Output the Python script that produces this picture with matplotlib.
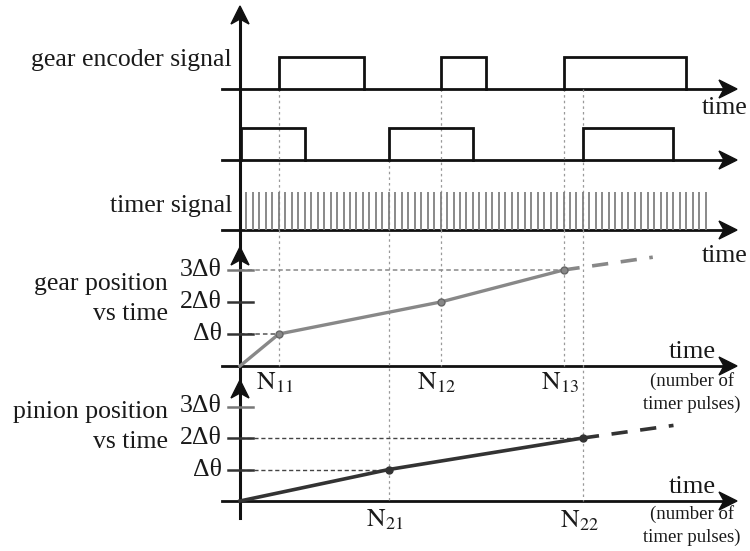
import matplotlib
matplotlib.use("Agg")
import matplotlib.pyplot as plt
from matplotlib.patches import Polygon

plt.rcParams['font.family'] = ['Liberation Serif', 'DejaVu Serif']
plt.rcParams['mathtext.fontset'] = 'stix'

# ---------------- data (time in timer pulses) ----------------
gear_pulses = [(6, 19.2), (31, 38), (50, 69)]          # gear encoder high intervals
pinion_pulses = [(0.15, 10), (23, 36), (53, 67)]       # pinion encoder high intervals
timer_count = 72                                       # timer pulses drawn
gear_N = [6, 31, 50]                                   # N11, N12, N13
gear_pos = [0, 1, 2, 3]                                # in delta-theta
gear_ext_t = [50, 63.8]
gear_ext_v = [3, 3.4]
pinion_N = [23, 53]                                    # N21, N22
pinion_pos = [0, 1, 2]
pinion_ext_t = [53, 67]
pinion_ext_v = [2, 2.4]
tick_labels = ['Δθ', '2Δθ', '3Δθ']

# ---------------- layout ----------------
W, H, DPI = 750, 551, 100
X0, PX = 240.0, 6.47          # origin pixel and pixels per pulse
XL = (-X0 / PX, (W - X0) / PX)

fig = plt.figure(figsize=(W / DPI, H / DPI), dpi=DPI)

def full_axes(xlim, ylim):
    a = fig.add_axes([0, 0, 1, 1])
    a.set_xlim(*xlim)
    a.set_ylim(*ylim)
    a.axis('off')
    a.patch.set_alpha(0)
    return a

axp = full_axes((0, W), (H, 0))                  # pixel layout
axt = full_axes(XL, (H, 0))                      # x pulses, y pixels

def row_axes(base, unit):
    return full_axes(XL, ((base - H) / unit, base / unit))

ROW1, ROW2, ROW3, GEAR, PIN = 89, 160, 230, 366, 501
ax1 = row_axes(ROW1, 32)
ax2 = row_axes(ROW2, 32)
ax3 = row_axes(ROW3, 38)
axg = row_axes(GEAR, 32)
axn = row_axes(PIN, 31.5)

K = '#111111'

def square_wave(ax, pulses):
    for a, b in pulses:
        ax.plot([a, a, b, b], [0, 1, 1, 0], color=K, lw=2.0,
                solid_joinstyle='miter', zorder=4)

# dotted vertical guides (drawn first)
guides = [(gear_N[0], ROW1, GEAR), (gear_N[1], ROW1, GEAR), (gear_N[2], ROW1, GEAR),
          (pinion_N[0], ROW2, PIN), (pinion_N[1], ROW1, PIN)]
for t, y0, y1 in guides:
    axt.plot([t, t], [y0, y1], color='#999999', lw=0.9, ls=(0, (2, 2.5)), zorder=1)

# baselines and arrows
def harrow(y):
    axp.plot([222, 725], [y, y], color=K, lw=2.0, zorder=3)
    axp.add_patch(Polygon([[737, y], [719, y - 9], [724, y], [719, y + 9]],
                          closed=True, color=K, zorder=5))

def varrow(ytip):
    axp.add_patch(Polygon([[240, ytip], [231, ytip + 18], [240, ytip + 13], [249, ytip + 18]],
                          closed=True, color=K, zorder=5))

for y in (ROW1, ROW2, ROW3, GEAR, PIN):
    harrow(y)
axp.plot([240, 240], [15, 518], color=K, lw=2.2, zorder=5)
varrow(6)
varrow(247)
varrow(380)

square_wave(ax1, gear_pulses)
square_wave(ax2, pinion_pulses)

# timer ticks
tt = list(range(1, timer_count + 1))
ax3.vlines(tt, 0, 1, color='#808080', lw=1.3, zorder=3)

# tick marks and labels
for ax, cols in ((axg, ['#333', '#333', '#777']), (axn, ['#333', '#333', '#777'])):
    for i, lab in enumerate(tick_labels):
        v = i + 1
        ax.plot([-12 / PX, 13 / PX], [v, v], color=cols[i], lw=1.8, zorder=3)
        ax.text(-18 / PX, v, lab, ha='right', va='center', fontsize=18.5, color='#1a1a1a')

# gear position plot
axg.plot([0, gear_N[2]], [3, 3], color='#888888', lw=1.1, ls=(0, (3, 2)), zorder=2)
axg.plot([0, gear_N[0]], [1, 1], color='#555555', lw=1.1, ls=(0, (3, 2)), zorder=2)
axg.plot([0] + gear_N, gear_pos, color='#888888', lw=2.4, zorder=4)
axg.plot(gear_N, gear_pos[1:], 'o', ms=5, color='#888888', mec='#666666', zorder=5)
axg.plot(gear_ext_t, gear_ext_v, color='#888888', lw=2.6, ls=(0, (4.5, 3.5)), zorder=4)

# pinion position plot
axn.plot([0, pinion_N[1]], [2, 2], color='#444444', lw=1.0, ls=(0, (3, 2)), zorder=2)
axn.plot([0, pinion_N[0]], [1, 1], color='#444444', lw=1.0, ls=(0, (3, 2)), zorder=2)
axn.plot([0] + pinion_N, pinion_pos, color='#333333', lw=2.6, zorder=4)
axn.plot(pinion_N, pinion_pos[1:], 'o', ms=5, color='#333333', zorder=5)
axn.plot(pinion_ext_t, pinion_ext_v, color='#333333', lw=2.6, ls=(0, (4.5, 3.5)), zorder=4)

# N labels
for t, lab, dy in ((gear_N[0], r'$\mathrm{N}_{11}$', 383), (gear_N[1], r'$\mathrm{N}_{12}$', 383),
                   (gear_N[2], r'$\mathrm{N}_{13}$', 383), (pinion_N[0], r'$\mathrm{N}_{21}$', 520),
                   (pinion_N[1], r'$\mathrm{N}_{22}$', 521)):
    axt.text(t - 0.6, dy, lab, ha='center', va='center', fontsize=18.5, color='#1a1a1a')

# left labels
TXT = '#1a1a1a'
FS = 18.5
axp.text(232, 60, 'gear encoder signal', ha='right', va='center', fontsize=FS, color=TXT)
axp.text(232, 206, 'timer signal', ha='right', va='center', fontsize=FS, color=TXT)
axp.text(168, 284, 'gear position', ha='right', va='center', fontsize=FS, color=TXT)
axp.text(168, 314, 'vs time', ha='right', va='center', fontsize=FS, color=TXT)
axp.text(168, 412, 'pinion position', ha='right', va='center', fontsize=FS, color=TXT)
axp.text(168, 442, 'vs time', ha='right', va='center', fontsize=FS, color=TXT)

# time labels
axp.text(748, 108, 'time', ha='right', va='center', fontsize=FS, color=TXT)
axp.text(748, 256, 'time', ha='right', va='center', fontsize=FS, color=TXT)
for yt, yn, yp in ((352, 381, 404), (487, 514, 537)):
    axp.text(692, yt, 'time', ha='center', va='center', fontsize=19, color=TXT)
    axp.text(692, yn, '(number of', ha='center', va='center', fontsize=13.5, color=TXT)
    axp.text(692, yp, 'timer pulses)', ha='center', va='center', fontsize=13.5, color=TXT)

fig.savefig('out.png', dpi=DPI, facecolor='white')
